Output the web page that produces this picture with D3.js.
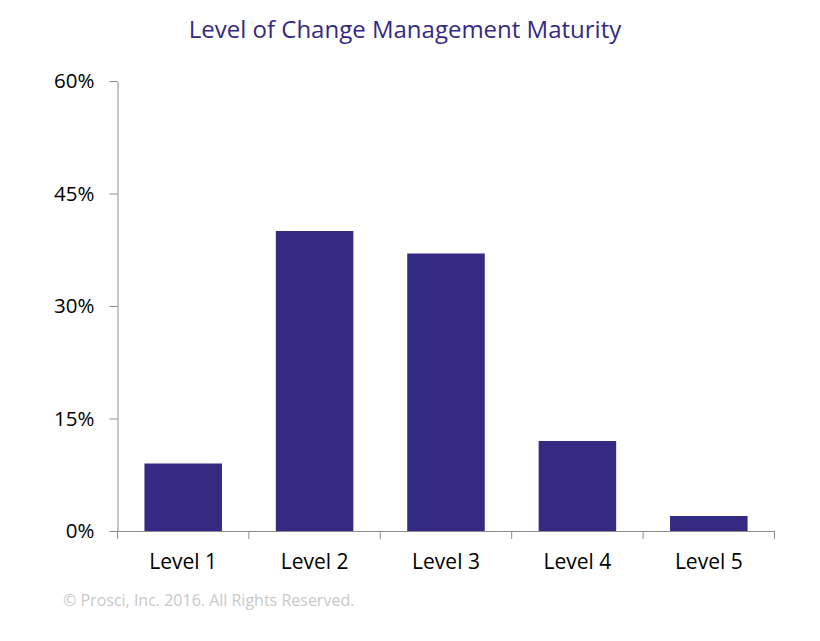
<!DOCTYPE html>
<html><head><meta charset="utf-8">
<script src="https://cdn.jsdelivr.net/npm/d3@7"></script>
<style>body{margin:0;background:#fff}svg{display:block}</style>
</head><body>
<svg id="c" width="820" height="641"></svg>
<script>
const categories = ["Level 1","Level 2","Level 3","Level 4","Level 5"];
const values = [9, 40, 37, 12, 2];
const yTicks = [0, 15, 30, 45, 60];
const titleText = "Level of Change Management Maturity";
const footerText = "© Prosci, Inc. 2016. All Rights Reserved.";

const svg = d3.select("#c");
const font = "'Open Sans', sans-serif";
const mLeft = 117.5, mRight = 774.5, mTop = 81, mBottom = 531;
const x = d3.scaleBand().domain(categories).range([mLeft, mRight]).paddingInner(0.41).paddingOuter(0.205);
const y = d3.scaleLinear().domain([0, 60]).range([mBottom, mTop]);
const barColor = "#342a84";

svg.append("text").attr("x", 405).attr("y", 38).attr("text-anchor", "middle")
  .attr("font-family", font).attr("font-size", 24).attr("fill", barColor).text(titleText);

svg.selectAll("rect.bar").data(values).enter().append("rect").attr("class","bar")
  .attr("x", (d,i) => x(categories[i])).attr("width", x.bandwidth())
  .attr("y", d => y(d)).attr("height", d => mBottom - y(d)).attr("fill", barColor);

const yAxis = svg.append("g").attr("transform", `translate(${mLeft},0)`)
  .call(d3.axisLeft(y).tickValues(yTicks).tickSize(8).tickSizeOuter(0).tickPadding(15).tickFormat(d => d + "%"));
const xb = d3.scaleBand().domain(categories).range([mLeft, mRight]);
const xAxis = svg.append("g").attr("transform", `translate(0,${mBottom})`)
  .call(d3.axisBottom(xb).tickSize(0).tickSizeOuter(0).tickPadding(23));
svg.selectAll("line.xt").data(d3.range(categories.length + 1)).enter().append("line").attr("class","xt")
  .attr("x1", i => mLeft + i * xb.step()).attr("x2", i => mLeft + i * xb.step())
  .attr("y1", mBottom).attr("y2", mBottom + 8).attr("stroke", "#8c8c8c");

[yAxis, xAxis].forEach(g => {
  g.selectAll("path.domain").attr("stroke", "#8c8c8c");
  g.selectAll(".tick line").attr("stroke", "#8c8c8c");
  g.selectAll("text").attr("font-family", font).attr("fill", "#000");
});
yAxis.selectAll("text").attr("font-size", 20.5);
xAxis.selectAll("text").attr("font-size", 21);

svg.append("text").attr("x", 63).attr("y", 606).attr("font-family", font).attr("font-size", 16)
  .attr("fill", "#c8c8c8").text(footerText);
</script>
</body></html>
